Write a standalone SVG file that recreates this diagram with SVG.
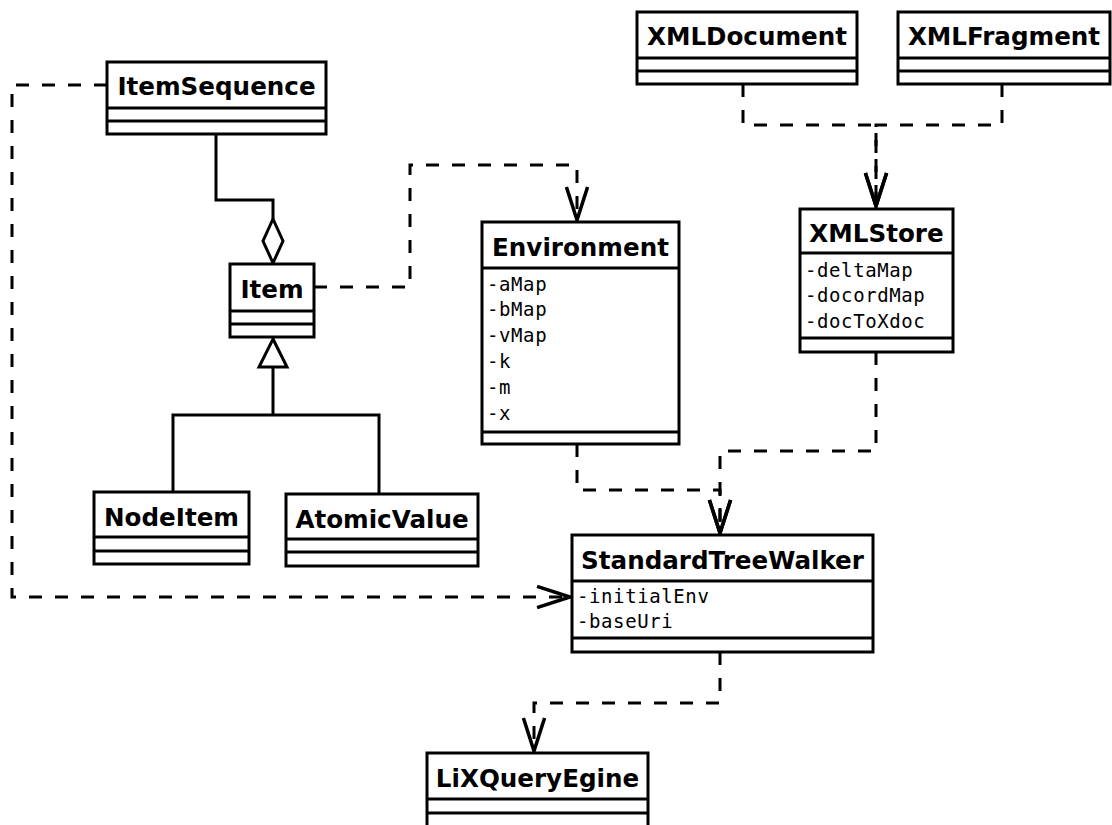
<svg xmlns="http://www.w3.org/2000/svg" width="1112" height="825" viewBox="0 0 1112 825">
<style>
.box{fill:#fff;stroke:#000;stroke-width:3}
.ln{fill:none;stroke:#000;stroke-width:3}
.dash{fill:none;stroke:#000;stroke-width:3;stroke-dasharray:13 13}
.t{font-family:"DejaVu Sans",sans-serif;font-weight:bold;font-size:24.6px;text-anchor:middle}
.a{font-family:"DejaVu Sans Mono",monospace;font-size:19px;letter-spacing:0.6px}
</style>
<defs>
<marker id="open" markerUnits="userSpaceOnUse" markerWidth="40" markerHeight="30" viewBox="-30 -12 34 24" refX="0" refY="0" orient="auto">
<path d="M-28,-9 L0,0 L-28,9" fill="none" stroke="#000" stroke-width="3"/>
</marker>
</defs>
<rect width="1112" height="825" fill="#fff"/>
<g id="connectors">
<path class="dash" d="M107,85 H12 V597 H570" marker-end="url(#open)"/>
<path class="ln" d="M216,134 V200 H273 V219"/>
<path class="ln" d="M273,219 L283,241 L273,263 L263,241 Z" fill="#fff"/>
<path class="ln" d="M273,339 L287,367 L259,367 Z" fill="#fff"/>
<path class="ln" d="M273,367 V415 M173,492 V415 H379 V494"/>
<path class="dash" d="M314,287 H410 V165 H577 V220" marker-end="url(#open)"/>
<path class="dash" d="M743,84 V125 H876 V206" marker-end="url(#open)"/>
<path class="dash" d="M1002,84 V125 H876 V206" marker-end="url(#open)"/>
<path class="dash" d="M577,444 V490 H720 V533" marker-end="url(#open)"/>
<path class="dash" d="M876,352 V451 H720 V533" marker-end="url(#open)"/>
<path class="dash" d="M720,652 V703 H534 V751" marker-end="url(#open)"/>
</g>
<g id="ItemSequence">
<rect class="box" x="107" y="62" width="219" height="72"/>
<path class="ln" d="M107,108 H326 M107,121 H326"/>
<text class="t" x="216.5" y="95">ItemSequence</text>
</g>
<g id="Item">
<rect class="box" x="230" y="264" width="84" height="73"/>
<path class="ln" d="M230,311 H314 M230,324 H314"/>
<text class="t" x="272" y="298">Item</text>
</g>
<g id="NodeItem">
<rect class="box" x="94" y="492" width="155" height="72"/>
<path class="ln" d="M94,537 H249 M94,551 H249"/>
<text class="t" x="171.5" y="526">NodeItem</text>
</g>
<g id="AtomicValue">
<rect class="box" x="286" y="494" width="192" height="72"/>
<path class="ln" d="M286,539 H478 M286,552 H478"/>
<text class="t" x="382" y="528">AtomicValue</text>
</g>
<g id="Environment">
<rect class="box" x="482" y="222" width="197" height="222"/>
<path class="ln" d="M482,268 H679 M482,432 H679"/>
<text class="t" x="580.5" y="256">Environment</text>
<text class="a" x="487" y="291">-aMap</text>
<text class="a" x="487" y="316">-bMap</text>
<text class="a" x="487" y="342">-vMap</text>
<text class="a" x="487" y="368">-k</text>
<text class="a" x="487" y="394">-m</text>
<text class="a" x="487" y="420">-x</text>
</g>
<g id="XMLDocument">
<rect class="box" x="637" y="12" width="220" height="72"/>
<path class="ln" d="M637,58 H857 M637,71 H857"/>
<text class="t" x="747" y="45">XMLDocument</text>
</g>
<g id="XMLFragment">
<rect class="box" x="898" y="12" width="212" height="72"/>
<path class="ln" d="M898,58 H1110 M898,71 H1110"/>
<text class="t" x="1004" y="45">XMLFragment</text>
</g>
<g id="XMLStore">
<rect class="box" x="800" y="209" width="153" height="143"/>
<path class="ln" d="M800,253 H953 M800,338 H953"/>
<text class="t" x="876.5" y="242">XMLStore</text>
<text class="a" x="805" y="277">-deltaMap</text>
<text class="a" x="805" y="302">-docordMap</text>
<text class="a" x="805" y="328">-docToXdoc</text>
</g>
<g id="StandardTreeWalker">
<rect class="box" x="572" y="535" width="301" height="117"/>
<path class="ln" d="M572,581 H873 M572,638 H873"/>
<text class="t" x="722.5" y="569">StandardTreeWalker</text>
<text class="a" x="577" y="603">-initialEnv</text>
<text class="a" x="577" y="628">-baseUri</text>
</g>
<g id="LiXQueryEgine">
<rect class="box" x="427" y="753" width="221" height="74"/>
<path class="ln" d="M427,799 H648 M427,813 H648"/>
<text class="t" x="537.5" y="787">LiXQueryEgine</text>
</g>
</svg>
